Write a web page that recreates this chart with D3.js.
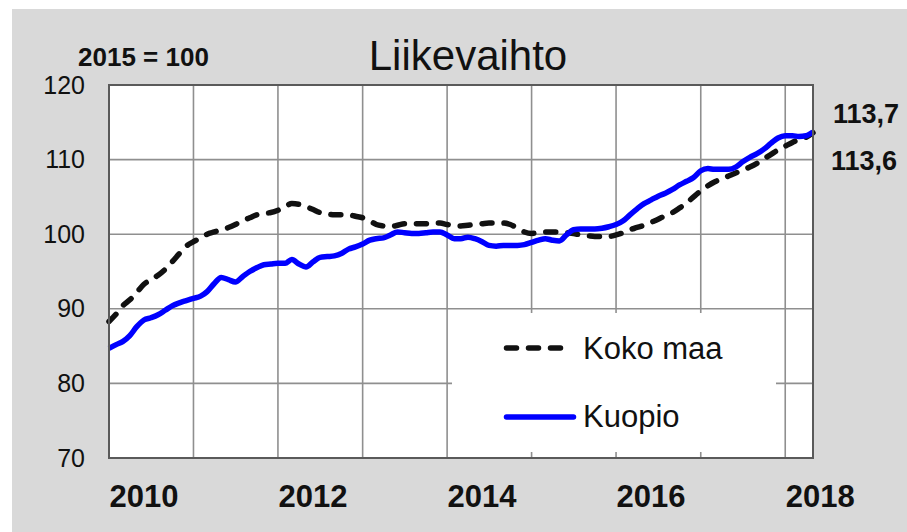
<!DOCTYPE html>
<html>
<head>
<meta charset="utf-8">
<script src="https://cdn.jsdelivr.net/npm/d3@7/dist/d3.min.js"></script>
<style>
  html, body { margin: 0; padding: 0; background: #ffffff; }
  svg { display: block; font-family: "Liberation Sans", Arial, sans-serif; }
</style>
</head>
<body>
<svg id="chart" width="907" height="532"></svg>
<script>
// Monthly index, Jan 2010 - May 2018 (2015 = 100)
var firstMonth = new Date(2010, 0, 1);
var lastMonth = new Date(2018, 4, 1);

var kokoMaa = [
  88.3, 89.3, 90.4, 91.2, 92.2, 93.3, 93.9, 94.5, 95.3, 96.3, 97.4, 98.4,
  99.0, 99.5, 100.0, 100.3, 100.6, 100.9, 101.3, 101.8, 102.2, 102.6, 102.8, 102.9,
  103.2, 103.7, 104.1, 104.0, 103.7, 103.3, 102.9, 102.7, 102.6, 102.6, 102.6, 102.4,
  102.2, 101.8, 101.3, 101.1, 101.0, 101.2, 101.4, 101.4, 101.4, 101.4, 101.5, 101.5,
  101.3, 101.2, 101.1, 101.2, 101.3, 101.4, 101.5, 101.5, 101.5, 101.3, 100.8, 100.3,
  100.1, 100.2, 100.3, 100.3, 100.3, 100.2, 100.1, 99.9, 99.8, 99.7, 99.7, 99.7,
  99.9, 100.2, 100.6, 100.9, 101.2, 101.6, 102.0, 102.5, 102.9, 103.5, 104.2, 105.0,
  105.8, 106.5, 107.0, 107.4, 107.8, 108.2, 108.6, 109.0, 109.5, 110.1, 110.7, 111.3,
  111.8, 112.3, 112.7, 113.0, 113.6
];

var kuopio = [
  84.7, 85.2, 85.6, 86.4, 87.6, 88.5, 88.8, 89.2, 89.8, 90.4, 90.8, 91.1,
  91.4, 91.7, 92.3, 93.4, 94.2, 93.9, 93.6, 94.3, 95.0, 95.5, 95.9, 96.0,
  96.1, 96.1, 96.6, 96.0, 95.6, 96.3, 96.9, 97.0, 97.1, 97.4, 98.0, 98.3,
  98.7, 99.2, 99.4, 99.5, 99.9, 100.3, 100.2, 100.1, 100.1, 100.2, 100.3, 100.3,
  99.9, 99.4, 99.4, 99.6, 99.4, 99.0, 98.5, 98.4, 98.5, 98.5, 98.5, 98.6,
  98.9, 99.2, 99.4, 99.2, 99.1, 99.9, 100.6, 100.7, 100.7, 100.7, 100.8, 101.0,
  101.3, 101.8, 102.6, 103.4, 104.1, 104.6, 105.1, 105.5, 106.0, 106.6, 107.1, 107.6,
  108.5, 108.8, 108.7, 108.7, 108.7, 109.0, 109.7, 110.3, 110.8, 111.4, 112.2, 112.9,
  113.2, 113.2, 113.1, 113.2, 113.7
];

var yTicks = [70, 80, 90, 100, 110, 120];
var xTickLabels = ['2010', '2012', '2014', '2016', '2018'];
var seriesNames = ['Koko maa', 'Kuopio'];

var months = d3.timeMonth.range(firstMonth, d3.timeMonth.offset(lastMonth, 1));

var svg = d3.select('#chart');

// gray page background
svg.append('rect')
  .attr('x', 12)
  .attr('y', 9)
  .attr('width', 907 - 12)
  .attr('height', 532 - 9)
  .attr('fill', '#d9d9d9');

var plot = { left: 109, right: 813, top: 85, bottom: 458 };

var x = d3.scaleTime()
  .domain([firstMonth, lastMonth])
  .range([plot.left, plot.right]);

var y = d3.scaleLinear()
  .domain([70, 120])
  .range([plot.bottom, plot.top]);

svg.append('rect')
  .attr('x', plot.left)
  .attr('y', plot.top)
  .attr('width', plot.right - plot.left)
  .attr('height', plot.bottom - plot.top)
  .attr('fill', '#ffffff');

// grid lines
var gridColor = '#8f8f8f';
svg.append('g')
  .selectAll('line.h')
  .data(yTicks)
  .join('line')
  .attr('x1', plot.left)
  .attr('x2', plot.right)
  .attr('y1', function(d) { return y(d); })
  .attr('y2', function(d) { return y(d); })
  .attr('stroke', gridColor)
  .attr('stroke-width', 1.6);

var yearLines = d3.timeYear.range(new Date(2011, 0, 1), new Date(2019, 0, 1));
svg.append('g')
  .selectAll('line.v')
  .data(yearLines)
  .join('line')
  .attr('x1', function(d) { return x(d); })
  .attr('x2', function(d) { return x(d); })
  .attr('y1', plot.top)
  .attr('y2', plot.bottom)
  .attr('stroke', gridColor)
  .attr('stroke-width', 1.6);

// legend box hides part of the grid
svg.append('rect')
  .attr('x', 452)
  .attr('y', 313)
  .attr('width', 776 - 452)
  .attr('height', 452 - 313)
  .attr('fill', '#ffffff');

var line = function(values) {
  return d3.line()
    .x(function(d, i) { return x(months[i]); })
    .y(function(d) { return y(d); })
    .curve(d3.curveMonotoneX)(values);
};

svg.append('path')
  .attr('d', line(kokoMaa))
  .attr('fill', 'none')
  .attr('stroke', '#111111')
  .attr('stroke-width', 5.5)
  .attr('stroke-dasharray', '10,12')
  .attr('stroke-linecap', 'round');

svg.append('path')
  .attr('d', line(kuopio))
  .attr('fill', 'none')
  .attr('stroke', '#0000ff')
  .attr('stroke-width', 5.5)
  .attr('stroke-linejoin', 'round');

// plot frame
svg.append('rect')
  .attr('x', plot.left)
  .attr('y', plot.top)
  .attr('width', plot.right - plot.left)
  .attr('height', plot.bottom - plot.top)
  .attr('fill', 'none')
  .attr('stroke', '#5a5a5a')
  .attr('stroke-width', 2);

// y axis
var yAxis = svg.append('g')
  .attr('transform', 'translate(' + (plot.left - 24) + ',0)')
  .call(d3.axisLeft(y).tickValues(yTicks).tickSize(0).tickPadding(0));
yAxis.select('.domain').remove();
yAxis.selectAll('text')
  .attr('fill', '#111111')
  .style('font-size', '25px')
  .style('font-family', '"Liberation Sans", Arial, sans-serif');

// x axis, labels start at the year line
var xAxis = svg.append('g')
  .attr('transform', 'translate(0,' + plot.bottom + ')')
  .call(d3.axisBottom(x)
    .tickValues(xTickLabels.map(function(t) { return new Date(+t, 0, 1); }))
    .tickFormat(function(d, i) { return xTickLabels[i]; })
    .tickSize(0));
xAxis.select('.domain').remove();
xAxis.selectAll('text')
  .attr('text-anchor', 'start')
  .attr('y', 49)
  .attr('dy', 0)
  .attr('fill', '#111111')
  .style('font-size', '31px')
  .style('font-weight', 'bold')
  .style('font-family', '"Liberation Sans", Arial, sans-serif');

// titles
svg.append('text')
  .attr('x', 468)
  .attr('y', 70)
  .attr('text-anchor', 'middle')
  .attr('fill', '#111111')
  .style('font-size', '42px')
  .text('Liikevaihto');

svg.append('text')
  .attr('x', 78)
  .attr('y', 66)
  .attr('fill', '#111111')
  .style('font-size', '26px')
  .style('font-weight', 'bold')
  .text('2015 = 100');

// last values at the right
var fmt = function(v) { return d3.format('.1f')(v).replace('.', ','); };
svg.append('text')
  .attr('x', 833)
  .attr('y', 123)
  .attr('fill', '#111111')
  .style('font-size', '27px')
  .style('font-weight', 'bold')
  .text(fmt(kuopio[kuopio.length - 1]));

svg.append('text')
  .attr('x', 831)
  .attr('y', 170)
  .attr('fill', '#111111')
  .style('font-size', '27px')
  .style('font-weight', 'bold')
  .text(fmt(kokoMaa[kokoMaa.length - 1]));

// legend
svg.append('line')
  .attr('x1', 506.5).attr('x2', 560.5)
  .attr('y1', 348).attr('y2', 348)
  .attr('stroke', '#111111')
  .attr('stroke-width', 5.5)
  .attr('stroke-dasharray', '10,12')
  .attr('stroke-linecap', 'round');

svg.append('text')
  .attr('x', 583)
  .attr('y', 359)
  .attr('fill', '#111111')
  .style('font-size', '31px')
  .text(seriesNames[0]);

svg.append('line')
  .attr('x1', 506.5).attr('x2', 573.5)
  .attr('y1', 417).attr('y2', 417)
  .attr('stroke', '#0000ff')
  .attr('stroke-width', 5.5)
  .attr('stroke-linecap', 'round');

svg.append('text')
  .attr('x', 583)
  .attr('y', 427)
  .attr('fill', '#111111')
  .style('font-size', '31px')
  .text(seriesNames[1]);
</script>
</body>
</html>
